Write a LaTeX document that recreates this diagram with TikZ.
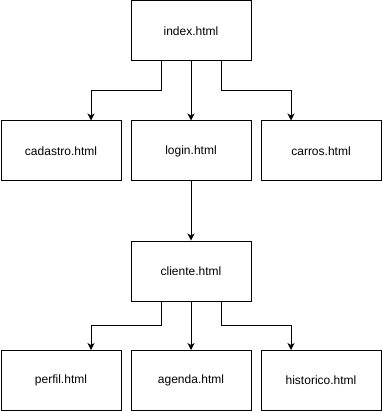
\documentclass[tikz,border=0pt]{standalone}
\usepackage{fontspec}
\setmainfont{Liberation Sans}
\usetikzlibrary{arrows.meta}
\begin{document}
\begin{tikzpicture}[x=1pt,y=-1pt,
  page/.style={draw=black, line width=1pt, minimum width=120pt, minimum height=60pt,
    inner sep=0pt, font=\fontsize{12}{14}\selectfont, anchor=north west},
  link/.style={draw=black, line width=1pt, -{Stealth[length=7pt,width=7pt,inset=2pt]}}]
  \useasboundingbox (0,0) rectangle (381,411);
  % pages
  \node[page] (index)     at (130.5,0.5)   {index.html};
  \node[page] (cadastro)  at (0.5,120.5)   {cadastro.html};
  \node[page] (login)     at (130.5,120.5) {login.html};
  \node[page] (carros)    at (260.5,120.5) {carros.html};
  \node[page] (cliente)   at (130.5,240.5) {cliente.html};
  \node[page] (perfil)    at (0.5,350)     {perfil.html};
  \node[page] (agenda)    at (130.5,350)   {agenda.html};
  \node[page] (historico) at (260.5,350)   {historico.html};
  % links from index
  \draw[link] ([xshift=-30pt]index.south) |- ([xshift=30pt]cadastro.north |- 0,90.5) -- ([xshift=30pt]cadastro.north);
  \draw[link] (index.south) -- (login.north);
  \draw[link] ([xshift=30pt]index.south) |- ([xshift=-30pt]carros.north |- 0,90.5) -- ([xshift=-30pt]carros.north);
  % login to cliente
  \draw[link] (login.south) -- (cliente.north);
  % links from cliente
  \draw[link] ([xshift=-30pt]cliente.south) |- ([xshift=30pt]perfil.north |- 0,325.5) -- ([xshift=30pt]perfil.north);
  \draw[link] (cliente.south) -- (agenda.north);
  \draw[link] ([xshift=30pt]cliente.south) |- ([xshift=-30pt]historico.north |- 0,325.5) -- ([xshift=-30pt]historico.north);
\end{tikzpicture}
\end{document}
